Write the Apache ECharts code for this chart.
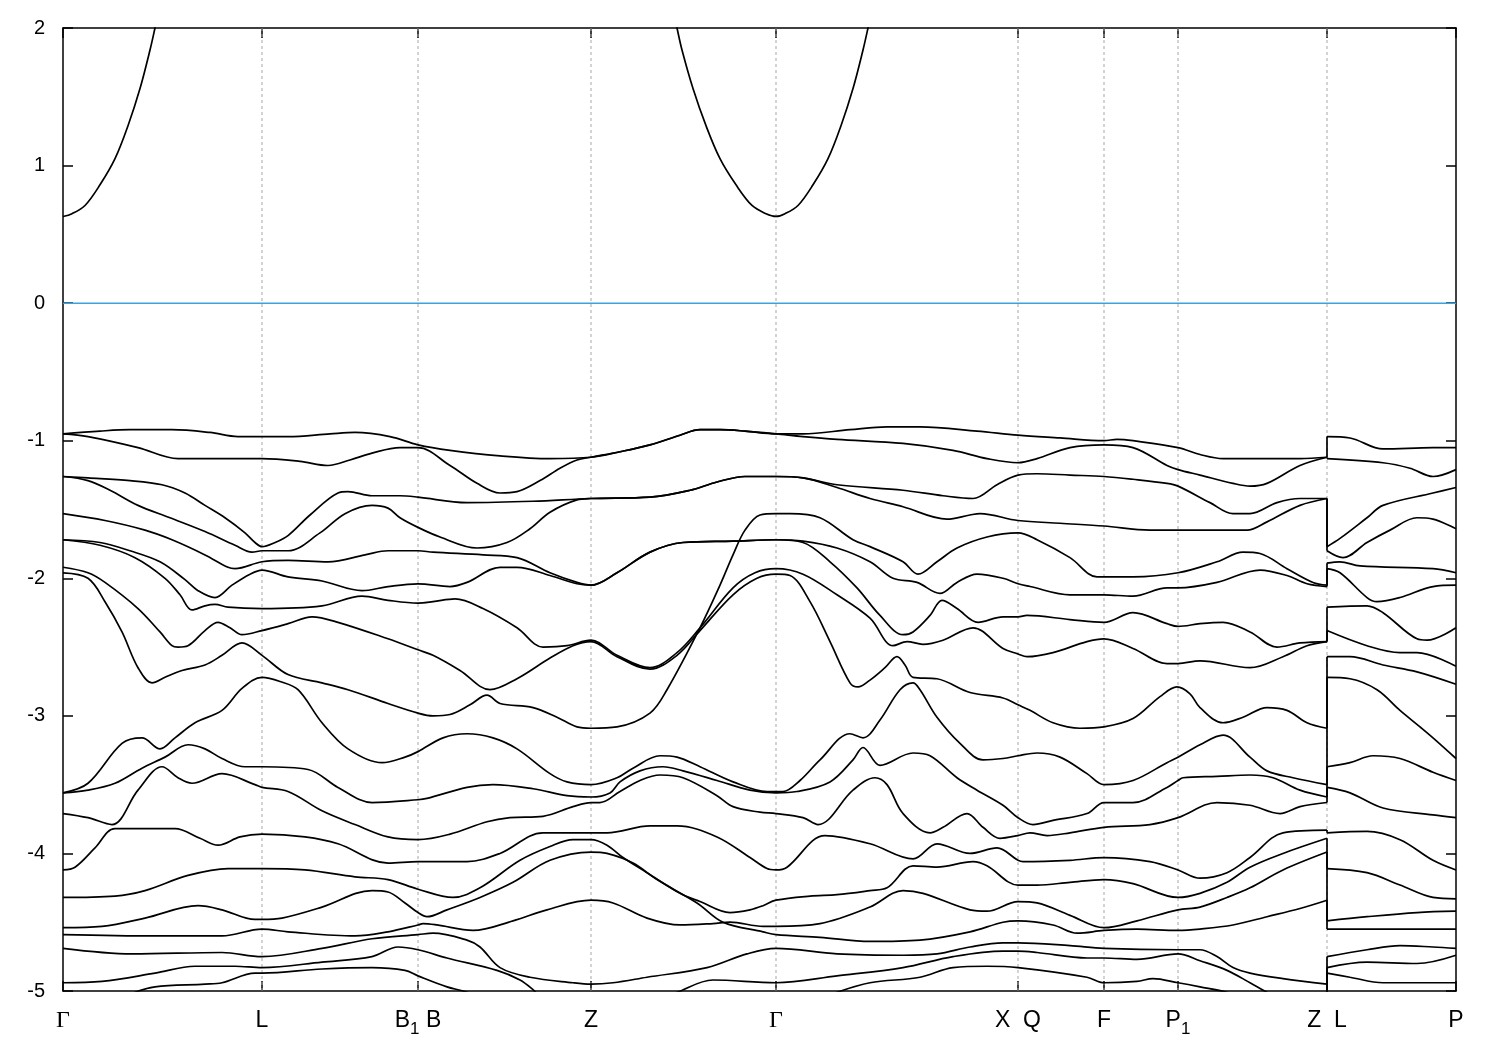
<!DOCTYPE html>
<html>
<head>
<meta charset="utf-8">
<script src="https://cdn.jsdelivr.net/npm/echarts@6/dist/echarts.min.js"></script>
<style>html,body{margin:0;padding:0;background:#fff}#chart{width:1500px;height:1050px}</style>
</head>
<body>
<div id="chart"></div>
<script>
// High-symmetry k positions (path length, arbitrary units) and their labels
const kPoints = [0, 1.99, 3.55, 5.28, 7.13, 9.55, 10.41, 11.15, 12.64, 13.93];
const kLabels = ['Γ', 'L', 'B_1 B', 'Z', 'Γ', 'X  Q', 'F', 'P_1', 'Z  L', 'P'];
const yTickValues = [-5, -4, -3, -2, -1, 0, 1, 2];
const fermiLevel = 0;

// Conduction band (eV)
const cond0 = [[0,0.63],[0.09,0.65],[0.22,0.71],[0.37,0.86],[0.52,1.05],[0.65,1.29],[0.77,1.56],[0.87,1.84],[0.92,2.00],[0.97,2.17]];
const cond1 = [[6.09,2.17],[6.14,2.00],[6.19,1.84],[6.30,1.56],[6.43,1.29],[6.57,1.05],[6.73,0.86],[6.89,0.71],[7.03,0.65],[7.13,0.63],[7.22,0.65],[7.35,0.71],[7.50,0.86],[7.65,1.05],[7.78,1.29],[7.90,1.56],[8.00,1.84],[8.05,2.00],[8.10,2.17]];

// Valence bands (eV); a repeated k marks the Z|L discontinuity
const band01 = [[0,-0.95],[0.37,-0.93],[0.67,-0.92],[1.09,-0.92],[1.47,-0.94],[1.75,-0.97],[1.99,-0.97],[2.25,-0.97],[2.67,-0.95],[2.92,-0.94],[3.27,-0.97],[3.55,-1.03],[3.87,-1.07],[4.37,-1.11],[4.87,-1.13],[5.28,-1.12],[5.57,-1.08],[5.87,-1.03],[6.17,-0.96],[6.37,-0.92],[6.57,-0.92],[6.82,-0.93],[7.13,-0.95],[7.40,-0.95],[7.87,-0.92],[8.24,-0.90],[8.57,-0.90],[9.14,-0.93],[9.55,-0.96],[9.97,-0.98],[10.41,-1.00],[10.54,-0.99],[10.70,-1.00],[11.15,-1.05],[11.37,-1.10],[11.60,-1.13],[12.37,-1.13],[12.64,-1.12],[12.64,-0.97],[12.87,-0.98],[13.20,-1.06],[13.70,-1.05],[13.93,-1.05]];
const band02 = [[0,-0.95],[0.25,-0.97],[0.75,-1.05],[1.15,-1.13],[1.57,-1.13],[1.99,-1.13],[2.37,-1.15],[2.65,-1.18],[2.87,-1.14],[3.09,-1.09],[3.37,-1.05],[3.55,-1.05],[3.87,-1.18],[4.14,-1.31],[4.37,-1.38],[4.54,-1.37],[4.77,-1.29],[4.97,-1.20],[5.14,-1.14],[5.28,-1.12],[5.57,-1.08],[5.87,-1.03],[6.17,-0.96],[6.37,-0.92],[6.57,-0.92],[6.82,-0.93],[7.13,-0.95],[7.40,-0.97],[7.74,-0.99],[8.40,-1.02],[8.90,-1.07],[9.24,-1.13],[9.55,-1.16],[9.74,-1.13],[10.07,-1.05],[10.41,-1.03],[10.70,-1.05],[11.04,-1.18],[11.15,-1.21],[11.37,-1.25],[11.70,-1.31],[11.87,-1.33],[12.04,-1.31],[12.37,-1.18],[12.64,-1.12],[12.64,-1.13],[13.20,-1.16],[13.47,-1.20],[13.70,-1.26],[13.93,-1.21]];
const band03 = [[0,-1.26],[0.25,-1.27],[0.67,-1.29],[0.99,-1.32],[1.22,-1.38],[1.42,-1.47],[1.62,-1.56],[1.82,-1.67],[1.92,-1.74],[1.99,-1.77],[2.12,-1.74],[2.25,-1.69],[2.47,-1.54],[2.75,-1.38],[2.85,-1.37],[3.09,-1.40],[3.37,-1.40],[3.55,-1.41],[4.04,-1.45],[4.70,-1.44],[5.28,-1.42],[5.87,-1.41],[6.27,-1.36],[6.54,-1.30],[6.82,-1.26],[7.13,-1.26],[7.40,-1.27],[7.74,-1.32],[8.40,-1.36],[8.80,-1.40],[9.10,-1.42],[9.34,-1.32],[9.55,-1.25],[9.74,-1.24],[10.07,-1.25],[10.41,-1.26],[10.70,-1.28],[11.04,-1.31],[11.15,-1.33],[11.47,-1.45],[11.70,-1.53],[11.87,-1.53],[12.14,-1.45],[12.37,-1.42],[12.64,-1.42],[12.64,-1.77],[12.77,-1.71],[13.04,-1.56],[13.20,-1.47],[13.70,-1.38],[13.93,-1.34]];
const band04 = [[0,-1.26],[0.25,-1.29],[0.47,-1.36],[0.75,-1.47],[1.07,-1.56],[1.42,-1.66],[1.72,-1.76],[1.89,-1.81],[1.99,-1.80],[2.25,-1.80],[2.57,-1.67],[2.82,-1.53],[3.09,-1.47],[3.25,-1.49],[3.37,-1.56],[3.55,-1.63],[3.77,-1.70],[4.14,-1.78],[4.44,-1.74],[4.67,-1.64],[4.87,-1.52],[5.14,-1.43],[5.28,-1.42],[5.87,-1.41],[6.27,-1.36],[6.54,-1.30],[6.82,-1.26],[7.13,-1.26],[7.40,-1.27],[7.74,-1.34],[8.07,-1.42],[8.40,-1.48],[8.84,-1.57],[9.07,-1.54],[9.17,-1.53],[9.55,-1.58],[9.97,-1.60],[10.41,-1.62],[10.87,-1.65],[11.15,-1.65],[11.84,-1.65],[12.04,-1.59],[12.37,-1.47],[12.64,-1.42],[12.64,-1.80],[12.80,-1.85],[13.04,-1.74],[13.27,-1.65],[13.54,-1.56],[13.70,-1.57],[13.93,-1.64]];
const band05 = [[0,-1.53],[0.42,-1.58],[0.82,-1.65],[1.09,-1.72],[1.42,-1.83],[1.65,-1.92],[1.72,-1.93],[1.99,-1.88],[2.25,-1.87],[2.65,-1.88],[3.02,-1.83],[3.25,-1.80],[3.55,-1.80],[3.70,-1.81],[4.20,-1.83],[4.54,-1.85],[4.87,-1.96],[5.14,-2.03],[5.28,-2.05],[5.54,-1.96],[5.87,-1.81],[6.20,-1.74],[6.70,-1.73],[7.13,-1.72],[7.40,-1.73],[7.74,-1.78],[8.07,-1.88],[8.30,-2.00],[8.54,-2.03],[8.77,-2.11],[8.94,-2.03],[9.14,-1.97],[9.40,-2.00],[9.55,-2.04],[9.67,-2.06],[10.07,-2.12],[10.41,-2.12],[10.70,-2.13],[11.04,-2.07],[11.15,-2.07],[11.54,-2.03],[11.97,-1.94],[12.24,-1.98],[12.44,-2.04],[12.64,-2.06],[12.64,-1.93],[12.77,-1.96],[13.04,-2.14],[13.14,-2.17],[13.37,-2.14],[13.70,-2.06],[13.93,-2.05]];
const band06 = [[0,-1.72],[0.37,-1.74],[0.67,-1.80],[0.97,-1.88],[1.22,-2.01],[1.35,-2.09],[1.52,-2.14],[1.69,-2.05],[1.87,-1.97],[1.99,-1.94],[2.25,-1.99],[2.59,-2.02],[2.99,-2.09],[3.25,-2.06],[3.55,-2.04],[3.87,-2.06],[4.04,-2.03],[4.37,-1.92],[4.54,-1.92],[4.87,-1.98],[5.14,-2.04],[5.28,-2.05],[5.54,-1.96],[5.87,-1.81],[6.20,-1.74],[6.70,-1.73],[7.13,-1.72],[7.40,-1.74],[7.67,-1.88],[7.94,-2.07],[8.17,-2.27],[8.40,-2.41],[8.50,-2.39],[8.67,-2.27],[8.79,-2.16],[8.94,-2.22],[9.15,-2.32],[9.40,-2.28],[9.55,-2.28],[9.64,-2.27],[10.07,-2.30],[10.41,-2.32],[10.70,-2.25],[11.04,-2.33],[11.15,-2.35],[11.37,-2.33],[11.60,-2.32],[11.87,-2.39],[12.14,-2.50],[12.37,-2.47],[12.64,-2.46],[12.64,-2.21],[13.04,-2.20],[13.20,-2.25],[13.54,-2.44],[13.64,-2.45],[13.93,-2.36]];
const band07 = [[0,-1.72],[0.37,-1.76],[0.72,-1.85],[1.02,-2.00],[1.17,-2.12],[1.29,-2.23],[1.42,-2.20],[1.52,-2.19],[1.65,-2.21],[1.99,-2.22],[2.59,-2.20],[2.99,-2.13],[3.25,-2.16],[3.55,-2.18],[3.70,-2.17],[3.92,-2.15],[4.20,-2.22],[4.54,-2.36],[4.80,-2.50],[5.04,-2.49],[5.28,-2.45],[5.54,-2.56],[5.87,-2.65],[6.14,-2.54],[6.37,-2.36],[6.70,-2.07],[6.92,-1.96],[7.13,-1.93],[7.40,-1.97],[7.74,-2.12],[8.07,-2.29],[8.30,-2.49],[8.44,-2.46],[8.60,-2.48],[8.80,-2.45],[9.10,-2.36],[9.40,-2.51],[9.55,-2.55],[9.64,-2.57],[9.90,-2.54],[10.24,-2.46],[10.41,-2.44],[10.70,-2.51],[11.04,-2.62],[11.15,-2.62],[11.37,-2.60],[11.87,-2.65],[12.20,-2.57],[12.44,-2.49],[12.64,-2.46],[12.64,-2.38],[13.04,-2.49],[13.37,-2.54],[13.54,-2.54],[13.93,-2.64]];
const band08 = [[0,-1.92],[0.25,-1.96],[0.42,-2.03],[0.75,-2.22],[0.97,-2.39],[1.09,-2.49],[1.15,-2.50],[1.25,-2.49],[1.42,-2.38],[1.55,-2.32],[1.67,-2.36],[1.79,-2.41],[1.99,-2.38],[2.25,-2.33],[2.49,-2.28],[2.75,-2.32],[3.25,-2.44],[3.55,-2.52],[3.70,-2.56],[3.97,-2.67],[4.27,-2.81],[4.54,-2.73],[4.87,-2.58],[5.10,-2.49],[5.28,-2.46],[5.54,-2.57],[5.87,-2.66],[6.14,-2.56],[6.37,-2.38],[6.70,-2.12],[6.94,-2.00],[7.13,-1.97],[7.27,-1.98],[7.47,-2.17],[7.67,-2.46],[7.87,-2.76],[7.95,-2.79],[8.07,-2.74],[8.22,-2.65],[8.34,-2.57],[8.42,-2.63],[8.50,-2.72],[8.74,-2.73],[9.07,-2.83],[9.40,-2.87],[9.55,-2.92],[9.67,-2.96],[9.90,-3.05],[10.17,-3.09],[10.41,-3.08],[10.70,-3.02],[10.97,-2.86],[11.14,-2.79],[11.27,-2.84],[11.37,-2.94],[11.60,-3.05],[11.80,-3.01],[12.04,-2.94],[12.24,-2.96],[12.44,-3.05],[12.64,-3.09],[12.64,-2.57],[12.87,-2.57],[13.20,-2.63],[13.54,-2.68],[13.93,-2.77]];
const band09 = [[0,-1.96],[0.25,-2.00],[0.42,-2.17],[0.59,-2.39],[0.75,-2.65],[0.89,-2.76],[1.02,-2.72],[1.19,-2.67],[1.42,-2.63],[1.59,-2.56],[1.79,-2.47],[1.99,-2.56],[2.25,-2.70],[2.59,-2.76],[2.85,-2.81],[3.25,-2.91],[3.55,-2.98],[3.70,-3.00],[3.87,-2.99],[4.07,-2.92],[4.24,-2.85],[4.37,-2.91],[4.70,-2.94],[4.94,-3.01],[5.14,-3.08],[5.28,-3.09],[5.54,-3.08],[5.87,-2.98],[6.04,-2.81],[6.37,-2.36],[6.57,-2.05],[6.70,-1.83],[6.82,-1.65],[6.97,-1.54],[7.13,-1.53],[7.27,-1.53],[7.57,-1.56],[7.90,-1.72],[8.07,-1.77],[8.40,-1.88],[8.55,-1.97],[8.74,-1.88],[8.94,-1.78],[9.24,-1.70],[9.55,-1.67],[9.74,-1.72],[10.07,-1.85],[10.34,-1.99],[10.41,-1.99],[10.70,-1.99],[11.15,-1.96],[11.54,-1.88],[11.80,-1.81],[11.97,-1.82],[12.24,-1.93],[12.50,-2.03],[12.64,-2.05],[12.64,-1.89],[12.77,-1.88],[12.97,-1.91],[13.70,-1.93],[13.93,-1.96]];
const band10 = [[0,-3.56],[0.25,-3.49],[0.59,-3.20],[0.79,-3.16],[0.97,-3.24],[1.12,-3.16],[1.32,-3.05],[1.59,-2.96],[1.79,-2.80],[1.99,-2.72],[2.17,-2.75],[2.35,-2.81],[2.59,-3.05],[2.85,-3.24],[3.19,-3.34],[3.42,-3.30],[3.55,-3.26],[3.80,-3.16],[4.04,-3.13],[4.30,-3.16],[4.54,-3.24],[4.87,-3.42],[5.04,-3.48],[5.28,-3.50],[5.54,-3.45],[5.70,-3.38],[5.97,-3.29],[6.14,-3.30],[6.37,-3.37],[6.70,-3.48],[7.04,-3.55],[7.13,-3.55],[7.20,-3.55],[7.37,-3.47],[7.57,-3.32],[7.87,-3.13],[8.00,-3.16],[8.17,-3.03],[8.37,-2.81],[8.50,-2.76],[8.57,-2.81],[8.74,-3.01],[8.97,-3.20],[9.20,-3.32],[9.40,-3.31],[9.55,-3.29],[9.74,-3.27],[9.97,-3.30],[10.24,-3.42],[10.41,-3.50],[10.70,-3.47],[11.04,-3.34],[11.15,-3.30],[11.37,-3.21],[11.60,-3.14],[11.87,-3.30],[12.04,-3.40],[12.30,-3.45],[12.64,-3.50],[12.64,-2.72],[12.87,-2.73],[13.14,-2.81],[13.37,-2.96],[13.57,-3.08],[13.70,-3.16],[13.93,-3.31]];
const band11 = [[0,-3.56],[0.25,-3.54],[0.52,-3.49],[0.79,-3.38],[1.02,-3.30],[1.25,-3.21],[1.42,-3.24],[1.59,-3.31],[1.82,-3.37],[1.99,-3.37],[2.45,-3.39],[2.75,-3.52],[3.09,-3.63],[3.55,-3.61],[3.64,-3.60],[4.04,-3.52],[4.30,-3.50],[4.70,-3.53],[5.04,-3.58],[5.28,-3.59],[5.47,-3.56],[5.57,-3.48],[5.77,-3.40],[6.00,-3.37],[6.20,-3.40],[6.54,-3.47],[6.87,-3.54],[7.13,-3.56],[7.34,-3.55],[7.67,-3.48],[7.90,-3.32],[8.00,-3.23],[8.17,-3.36],[8.50,-3.27],[8.67,-3.29],[8.94,-3.45],[9.14,-3.54],[9.40,-3.65],[9.55,-3.74],[9.70,-3.79],[9.90,-3.76],[10.24,-3.71],[10.41,-3.63],[10.70,-3.63],[11.04,-3.52],[11.15,-3.47],[11.20,-3.45],[11.54,-3.44],[11.87,-3.43],[12.10,-3.45],[12.37,-3.54],[12.64,-3.59],[12.64,-3.37],[12.87,-3.34],[13.10,-3.29],[13.37,-3.31],[13.70,-3.41],[13.93,-3.47]];
const band12 = [[0,-3.71],[0.25,-3.74],[0.49,-3.79],[0.75,-3.54],[0.99,-3.37],[1.15,-3.45],[1.29,-3.49],[1.59,-3.42],[1.92,-3.50],[1.99,-3.52],[2.25,-3.55],[2.59,-3.69],[2.92,-3.79],[3.25,-3.88],[3.55,-3.90],[3.87,-3.86],[4.24,-3.77],[4.47,-3.74],[4.80,-3.73],[5.10,-3.66],[5.28,-3.63],[5.37,-3.63],[5.57,-3.55],[5.77,-3.47],[5.97,-3.43],[6.20,-3.45],[6.54,-3.58],[6.70,-3.66],[6.97,-3.70],[7.13,-3.71],[7.40,-3.74],[7.55,-3.79],[7.90,-3.54],[8.12,-3.45],[8.24,-3.50],[8.40,-3.71],[8.67,-3.85],[8.80,-3.81],[9.04,-3.71],[9.20,-3.81],[9.37,-3.89],[9.55,-3.87],[9.67,-3.85],[9.84,-3.87],[10.07,-3.85],[10.41,-3.81],[10.87,-3.79],[11.15,-3.74],[11.54,-3.63],[11.87,-3.65],[12.17,-3.71],[12.37,-3.66],[12.64,-3.63],[12.64,-3.52],[12.87,-3.56],[13.20,-3.67],[13.70,-3.72],[13.93,-3.74]];
const band13 = [[0,-4.12],[0.12,-4.10],[0.32,-3.96],[0.52,-3.82],[1.12,-3.82],[1.37,-3.89],[1.55,-3.94],[1.77,-3.88],[1.99,-3.86],[2.42,-3.88],[2.75,-3.93],[3.25,-4.07],[3.55,-4.06],[4.04,-4.06],[4.37,-4.00],[4.80,-3.85],[5.28,-3.85],[5.44,-3.85],[5.87,-3.80],[6.14,-3.80],[6.54,-3.88],[6.87,-4.03],[7.04,-4.11],[7.13,-4.12],[7.24,-4.10],[7.62,-3.87],[8.07,-3.93],[8.50,-4.04],[8.74,-3.93],[9.07,-4.00],[9.34,-3.96],[9.55,-4.05],[9.60,-4.06],[10.07,-4.05],[10.41,-4.03],[10.87,-4.06],[11.15,-4.12],[11.37,-4.18],[11.64,-4.14],[11.87,-4.03],[12.20,-3.85],[12.64,-3.83],[12.64,-3.85],[13.04,-3.84],[13.37,-3.90],[13.70,-4.05],[13.93,-4.12]];
const band14 = [[0,-4.32],[0.52,-4.31],[0.82,-4.27],[1.25,-4.16],[1.65,-4.11],[1.99,-4.11],[2.42,-4.12],[2.92,-4.17],[3.25,-4.19],[3.55,-4.26],[3.90,-4.32],[4.17,-4.25],[4.57,-4.05],[4.87,-3.95],[5.10,-3.90],[5.28,-3.90],[5.44,-3.94],[5.60,-4.03],[5.84,-4.14],[6.17,-4.29],[6.37,-4.35],[6.67,-4.43],[6.87,-4.41],[7.00,-4.38],[7.13,-4.34],[7.47,-4.31],[7.74,-4.30],[8.07,-4.27],[8.24,-4.25],[8.50,-4.09],[8.74,-4.10],[9.10,-4.06],[9.24,-4.09],[9.55,-4.23],[9.74,-4.23],[10.07,-4.21],[10.41,-4.19],[10.70,-4.22],[11.15,-4.32],[11.37,-4.29],[11.64,-4.21],[11.87,-4.10],[12.20,-4.00],[12.64,-3.89],[12.64,-4.11],[13.04,-4.14],[13.37,-4.23],[13.70,-4.32],[13.93,-4.33]];
const band15 = [[0,-4.54],[0.39,-4.53],[0.82,-4.47],[1.35,-4.38],[1.59,-4.41],[1.92,-4.48],[1.99,-4.48],[2.19,-4.47],[2.59,-4.39],[3.09,-4.27],[3.25,-4.28],[3.42,-4.36],[3.55,-4.43],[3.64,-4.46],[3.84,-4.41],[4.17,-4.32],[4.50,-4.21],[4.87,-4.05],[5.28,-3.99],[5.44,-4.00],[5.70,-4.07],[5.94,-4.19],[6.34,-4.36],[6.60,-4.50],[7.00,-4.57],[7.13,-4.59],[7.57,-4.61],[8.07,-4.64],[8.57,-4.63],[9.07,-4.57],[9.40,-4.50],[9.55,-4.49],[9.90,-4.52],[10.14,-4.58],[10.41,-4.56],[10.74,-4.55],[11.15,-4.56],[11.37,-4.55],[11.70,-4.52],[12.04,-4.46],[12.37,-4.40],[12.64,-4.34],[12.64,-4.55],[13.37,-4.55],[13.93,-4.55]];
const band16 = [[0,-4.59],[0.92,-4.60],[1.59,-4.60],[1.99,-4.55],[2.25,-4.57],[2.92,-4.60],[3.25,-4.57],[3.55,-4.52],[3.60,-4.51],[3.74,-4.52],[4.10,-4.56],[4.50,-4.49],[4.84,-4.41],[5.28,-4.34],[5.50,-4.36],[5.84,-4.47],[6.17,-4.52],[6.50,-4.51],[6.67,-4.50],[7.00,-4.53],[7.13,-4.53],[7.57,-4.51],[8.07,-4.39],[8.40,-4.27],[8.60,-4.29],[9.07,-4.41],[9.24,-4.42],[9.55,-4.35],[9.74,-4.36],[10.07,-4.45],[10.41,-4.54],[10.74,-4.49],[11.15,-4.41],[11.37,-4.39],[11.64,-4.32],[11.87,-4.25],[12.20,-4.12],[12.64,-3.99],[12.64,-4.49],[13.04,-4.46],[13.54,-4.43],[13.93,-4.42]];
const band17 = [[0,-4.69],[0.69,-4.73],[1.59,-4.72],[1.99,-4.75],[2.59,-4.69],[3.09,-4.62],[3.55,-4.59],[3.70,-4.58],[4.04,-4.63],[4.17,-4.68],[4.37,-4.83],[4.67,-4.90],[5.10,-4.94],[5.28,-4.95],[5.50,-4.94],[5.84,-4.90],[6.44,-4.83],[6.84,-4.73],[7.13,-4.69],[7.74,-4.73],[8.40,-4.74],[8.74,-4.73],[9.07,-4.68],[9.40,-4.65],[9.55,-4.65],[10.07,-4.67],[10.41,-4.69],[11.15,-4.70],[11.37,-4.70],[11.54,-4.75],[11.70,-4.83],[11.87,-4.87],[12.20,-4.91],[12.64,-4.95],[12.64,-4.75],[13.04,-4.70],[13.37,-4.67],[13.70,-4.68],[13.93,-4.69]];
const band18 = [[0,-4.94],[0.39,-4.93],[0.92,-4.87],[1.32,-4.82],[1.72,-4.82],[1.99,-4.83],[2.59,-4.79],[3.09,-4.75],[3.35,-4.68],[3.55,-4.70],[3.84,-4.76],[4.34,-4.85],[4.57,-4.92],[4.70,-4.99],[4.82,-5.07],[5.37,-5.15],[5.87,-5.09],[6.14,-5.01],[6.50,-4.92],[7.13,-4.94],[7.74,-4.89],[8.40,-4.83],[8.90,-4.75],[9.40,-4.71],[9.55,-4.71],[9.74,-4.72],[10.24,-4.76],[10.41,-4.76],[10.74,-4.77],[11.15,-4.73],[11.37,-4.78],[11.64,-4.85],[11.87,-4.94],[12.04,-5.01],[12.27,-5.09],[12.64,-5.14],[12.64,-4.83],[13.04,-4.79],[13.54,-4.80],[13.93,-4.74]];
const band19 = [[0,-5.14],[0.37,-5.10],[0.57,-5.07],[0.72,-5.01],[0.92,-4.97],[1.42,-4.95],[1.59,-4.94],[1.92,-4.87],[1.99,-4.87],[2.59,-4.84],[3.09,-4.83],[3.42,-4.85],[3.55,-4.89],[3.84,-4.97],[4.00,-5.00],[4.17,-5.04],[4.57,-5.14],[5.37,-5.21],[6.37,-5.21],[7.13,-5.14],[7.57,-5.07],[7.74,-5.01],[8.07,-4.94],[8.57,-4.90],[8.90,-4.83],[9.24,-4.82],[9.55,-4.83],[10.24,-4.90],[10.41,-4.94],[10.74,-4.93],[10.90,-4.91],[11.15,-4.94],[11.37,-4.97],[11.64,-5.01],[11.87,-5.07],[12.64,-5.18],[12.64,-4.87],[12.87,-4.90],[13.20,-4.94],[13.70,-4.94],[13.93,-4.94]];

const bands = [cond0, cond1, band01, band02, band03, band04, band05, band06, band07, band08, band09, band10, band11, band12, band13, band14, band15, band16, band17, band18, band19];

// split each band at the Z|L discontinuity: smooth pieces + straight vertical jump
function pieces(b) {
  const out = [];
  let cur = [b[0]];
  for (let i = 1; i < b.length; i++) {
    if (b[i][0] === b[i - 1][0]) {
      out.push({ pts: cur, smooth: true });
      out.push({ pts: [b[i - 1], b[i]], smooth: false });
      cur = [b[i]];
    } else cur.push(b[i]);
  }
  out.push({ pts: cur, smooth: true });
  return out;
}

const kMin = kPoints[0], kMax = kPoints[kPoints.length - 1];
const series = [];
kPoints.slice(1, -1).forEach(k => {
  series.push({ type: 'line', data: [[k, -5], [k, 2]], symbol: 'none', silent: true, z: 1,
    lineStyle: { color: '#a8a8a8', width: 1, type: [3, 3] } });
});
series.push({ type: 'line', data: [[kMin, fermiLevel], [kMax, fermiLevel]], symbol: 'none', silent: true, z: 2,
  lineStyle: { color: '#3ea2dd', width: 1.5 } });
bands.forEach(b => pieces(b).forEach(p => {
  series.push({ type: 'line', data: p.pts, symbol: 'none', showSymbol: false, silent: true, z: 3,
    smooth: p.smooth ? 0.35 : false, clip: true, lineStyle: { color: '#000', width: 1.7 } });
}));

function richLabel(s) {
  if (s === 'Γ') return '{g|Γ}';
  return s.split(/(_\d)/).filter(x => x).map(x => x[0] === '_' ? '{s|' + x.slice(1) + '}' : '{t|' + x + '}').join('');
}

const chart = echarts.init(document.getElementById('chart'), null, { renderer: 'canvas', width: 1500, height: 1050 });
chart.setOption({
  animation: false,
  backgroundColor: '#fff',
  grid: { left: 63, right: 44, top: 28, bottom: 59, containLabel: false },
  xAxis: [{
    type: 'value', min: kMin, max: kMax, position: 'bottom',
    axisLine: { show: true, onZero: false, lineStyle: { color: '#000', width: 1.5 } },
    axisTick: { show: true, inside: true, length: 10, customValues: kPoints, lineStyle: { color: '#000', width: 1.5 } },
    splitLine: { show: false },
    axisLabel: {
      customValues: kPoints, margin: 18, color: '#000',
      formatter: v => { const i = kPoints.findIndex(k => Math.abs(k - v) < 1e-6); return i < 0 ? '' : richLabel(kLabels[i]); },
      rich: {
        t: { fontFamily: 'Liberation Sans', fontSize: 23, color: '#000', verticalAlign: 'top', lineHeight: 28 },
        s: { fontFamily: 'Liberation Sans', fontSize: 17, color: '#000', verticalAlign: 'top', padding: [12, 0, 0, 0], lineHeight: 28 },
        g: { fontFamily: 'Liberation Serif', fontSize: 24, color: '#000', verticalAlign: 'top', lineHeight: 28 }
      }
    }
  }, {
    type: 'value', min: kMin, max: kMax, position: 'top',
    axisLine: { show: true, onZero: false, lineStyle: { color: '#000', width: 1.5 } },
    axisTick: { show: true, inside: true, length: 10, customValues: kPoints, lineStyle: { color: '#000', width: 1.5 } },
    axisLabel: { show: false }, splitLine: { show: false }
  }],
  yAxis: [{
    type: 'value', min: -5, max: 2, interval: 1, position: 'left',
    axisLine: { show: true, onZero: false, lineStyle: { color: '#000', width: 1.5 } },
    axisTick: { show: true, inside: true, length: 10, lineStyle: { color: '#000', width: 1.5 } },
    splitLine: { show: false },
    axisLabel: { color: '#000', fontFamily: 'Liberation Sans', fontSize: 20, margin: 18 }
  }, {
    type: 'value', min: -5, max: 2, interval: 1, position: 'right',
    axisLine: { show: true, onZero: false, lineStyle: { color: '#000', width: 1.5 } },
    axisTick: { show: true, inside: true, length: 10, lineStyle: { color: '#000', width: 1.5 } },
    splitLine: { show: false }, axisLabel: { show: false }
  }],
  series: series
});
</script>
</body>
</html>
